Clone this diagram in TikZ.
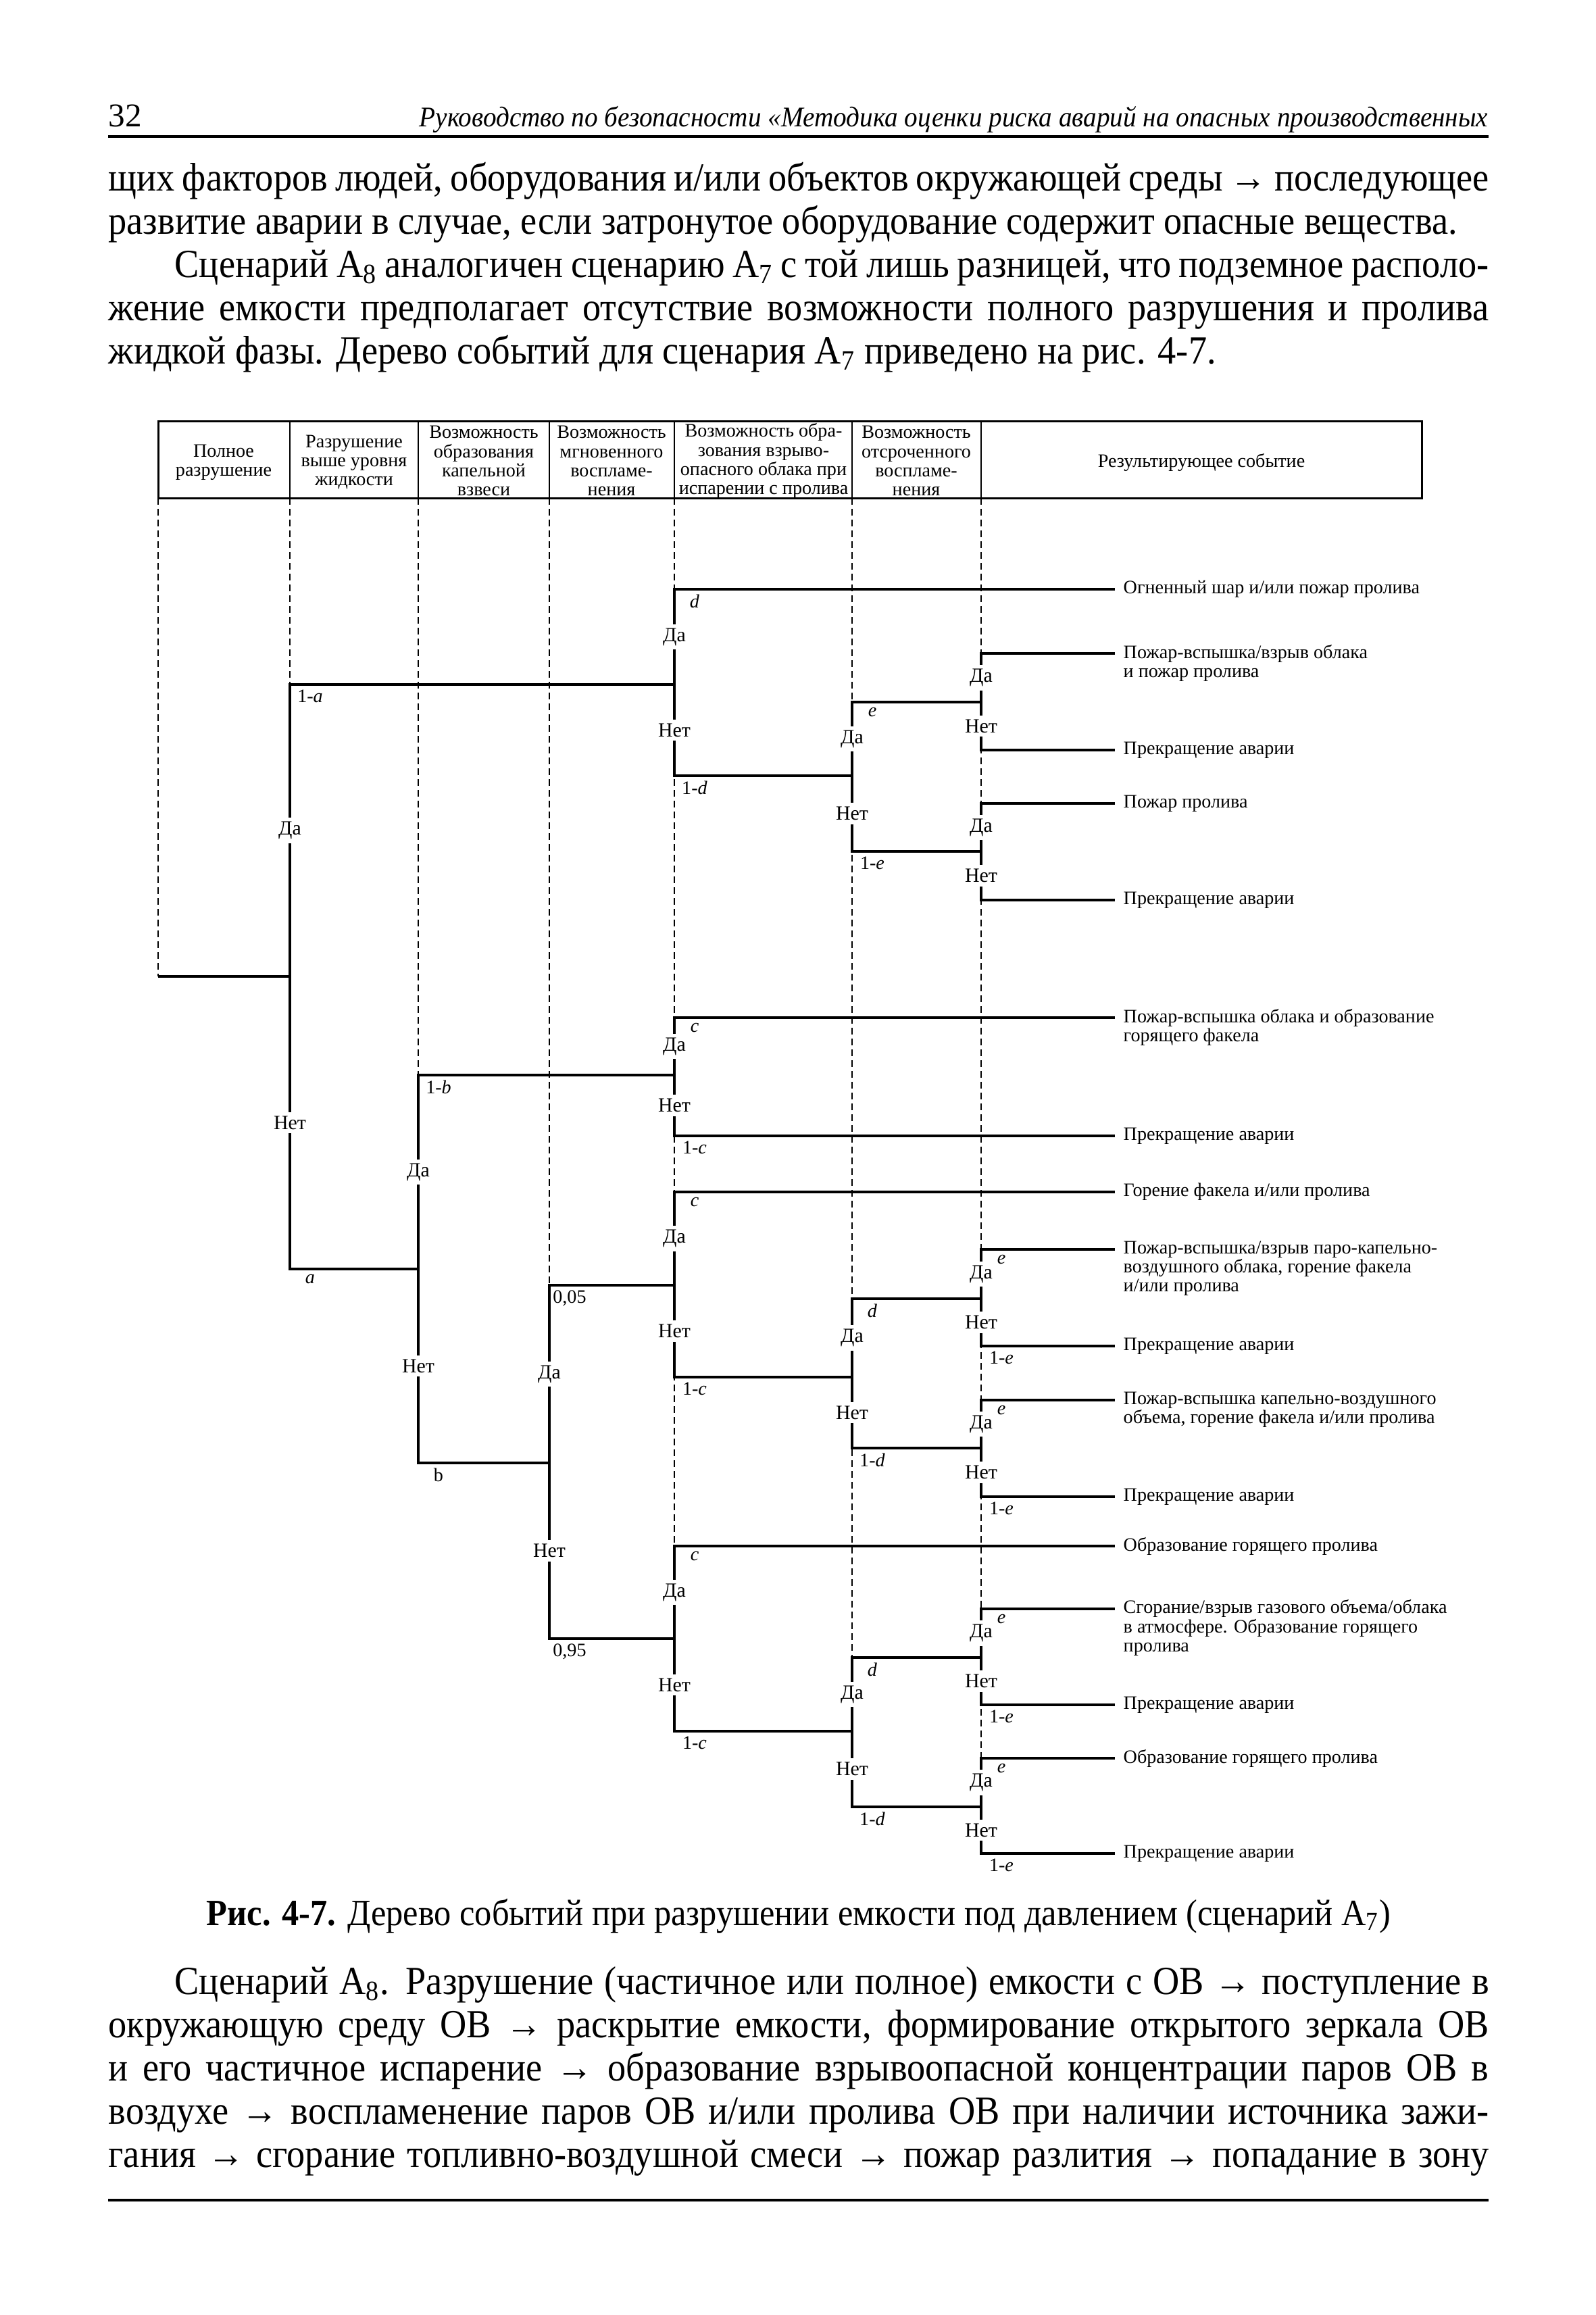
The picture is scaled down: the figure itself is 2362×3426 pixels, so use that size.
\documentclass[tikz,border=0pt]{standalone}
\usepackage{fontspec}
\setmainfont{Liberation Serif}
\newfontfamily\bodyfam[FakeStretch=0.92]{Liberation Serif}
\usepackage{tikz}
\usetikzlibrary{positioning}
\newcommand\dfont{\fontsize{8}{8}\selectfont}
\newcommand\ynfont{\fontsize{8.5}{8.5}\selectfont}
\newcommand\btfont{\bodyfam\fontsize{16.8}{19}\selectfont}
\newcommand\hdfont{\fontsize{12}{14}\selectfont}
\newcommand\capfont{\bodyfam\fontsize{15.6}{18}\selectfont}
\tikzset{
  br/.style     = {line width=0.45mm},
  col/.style    = {line width=0.15mm, dash pattern=on 1mm off 0.6mm},
  tab/.style    = {line width=0.3mm},
  tabsep/.style = {line width=0.2mm},
  pgrule/.style = {line width=0.45mm},
  hd/.style     = {align=center, inner sep=0pt, font=\dfont},
  yn/.style     = {fill=white, inner sep=1.6pt, font=\ynfont, pos=.25},
  pl/.style     = {anchor=north, inner sep=0pt, xshift=3mm, yshift=-0.6mm, font=\dfont, pos=.5},
  res/.style    = {align=left, inner sep=0pt, font=\dfont},
  txt/.style    = {inner sep=0pt, font=\btfont},
}

\begin{document}
\begin{tikzpicture}[x=0.1mm, y=-0.1mm, node distance=1.2mm]
  \useasboundingbox (0,0) rectangle (2362,3426);

  % page head and text above the figure
  \node[txt, anchor=base west, font=\fontsize{14}{16}\selectfont] (pgno) at (160,187) {32};
  \node[txt, anchor=base east, font=\hdfont\itshape] (runhead) at (2203,187) {\scalebox{0.93}[1]{Руководство по безопасности «Методика оценки риска аварий на опасных производственных}};
  \draw[pgrule] (160,202) -- (2203,202);
  \node[txt, anchor=base west] (t1) at (160,282) {\makebox[204.3mm][s]{щих факторов людей, оборудования и/или объектов окружающей среды → последующее}};
  \node[txt, anchor=base west] (t2) at (160,346) {развитие аварии в случае, если затронутое оборудование содержит опасные вещества.};
  \node[txt, anchor=base west] (t3) at (258,410) {\makebox[194.5mm][s]{Сценарий А\textsubscript{8} аналогичен сценарию А\textsubscript{7} с той лишь разницей, что подземное располо-}};
  \node[txt, anchor=base west] (t4) at (160,474) {\makebox[204.3mm][s]{жение емкости предполагает отсутствие возможности полного разрушения и пролива}};
  \node[txt, anchor=base west] (t5) at (160,538) {жидкой фазы. Дерево событий для сценария А\textsubscript{7} приведено на рис. 4-7.};

  % table head
  \draw[tab] (234,623) rectangle (2104,737);
  \foreach \x in {429,619,813,998,1261,1452}
    \draw[tabsep] (\x,623) -- (\x,737);
  \node[hd] (h1) at (331,684) {Полное\\разрушение};
  \node[hd] (h2) at (524,684) {Разрушение\\выше уровня\\жидкости};
  \node[hd] (h3) at (716,682) {Возможность\\образования\\капельной\\взвеси};
  \node[hd] (h4) at (905,682) {Возможность\\мгновенного\\воспламе-\\нения};
  \node[hd] (h5) at (1130,682) {Возможность обра-\\зования взрыво-\\опасного облака при\\испарении с пролива};
  \node[hd] (h6) at (1356,682) {Возможность\\отсроченного\\воспламе-\\нения};
  \node[hd] (h7) at (1778,684) {Результирующее событие};

  \foreach \x/\yb in {234/1445,429/1013,619/1591,813/1902,998/2288,1261/2453,1452/2602}
    \draw[col] (\x,737) -- (\x,\yb);

  % branch points
  \coordinate (r)  at (234,1445);
  \coordinate (A)  at (429,1445);
  \coordinate (D1) at (998,1013);
  \coordinate (E1) at (1261,1148);
  \coordinate (F1) at (1452,1039);
  \coordinate (F2) at (1452,1260);
  \coordinate (B)  at (619,1878);
  \coordinate (C1) at (998,1591);
  \coordinate (M)  at (813,2165);
  \coordinate (C2) at (998,1902);
  \coordinate (C3) at (998,2425);
  \coordinate (E2) at (1261,2038);
  \coordinate (F3) at (1452,1922);
  \coordinate (F4) at (1452,2143);
  \coordinate (E3) at (1261,2562);
  \coordinate (F5) at (1452,2453);
  \coordinate (F6) at (1452,2674);

  % outcomes
  \foreach \n/\y in {1/872,2/967,3/1110,4/1189,5/1332,6/1506,7/1681,8/1764,9/1849,
                     10/1992,11/2072,12/2215,13/2288,14/2381,15/2523,16/2602,17/2743}
    \coordinate (e\n) at (1650,\y);
  \node[res, right=of e1] (o1) {Огненный шар и/или пожар пролива};
  \node[res, right=of e2, yshift=-1.4mm] (o2) {Пожар-вспышка/взрыв облака\\и пожар пролива};
  \node[res, right=of e3] (o3) {Прекращение аварии};
  \node[res, right=of e4] (o4) {Пожар пролива};
  \node[res, right=of e5] (o5) {Прекращение аварии};
  \node[res, right=of e6, yshift=-1.4mm] (o6) {Пожар-вспышка облака и образование\\горящего факела};
  \node[res, right=of e7] (o7) {Прекращение аварии};
  \node[res, right=of e8] (o8) {Горение факела и/или пролива};
  \node[res, right=of e9, yshift=-2.8mm] (o9) {Пожар-вспышка/взрыв паро-капельно-\\воздушного облака, горение факела\\и/или пролива};
  \node[res, right=of e10] (o10) {Прекращение аварии};
  \node[res, right=of e11, yshift=-1.4mm] (o11) {Пожар-вспышка капельно-воздушного\\объема, горение факела и/или пролива};
  \node[res, right=of e12] (o12) {Прекращение аварии};
  \node[res, right=of e13] (o13) {Образование горящего пролива};
  \node[res, right=of e14, yshift=-2.8mm] (o14) {Сгорание/взрыв газового объема/облака\\в атмосфере. Образование горящего\\пролива};
  \node[res, right=of e15] (o15) {Прекращение аварии};
  \node[res, right=of e16] (o16) {Образование горящего пролива};
  \node[res, right=of e17] (o17) {Прекращение аварии};

  % tree
  \draw[br] (r) -- (A);
  \draw[br] (A) |- node[yn]{Да} node[pl]{1-\textit{a}} (D1);
  \draw[br] (A) |- node[yn]{Нет} node[pl]{\textit{a}} (B);
  \draw[br] (D1) |- node[yn]{Да} node[pl]{\textit{d}} (e1);
  \draw[br] (D1) |- node[yn]{Нет} node[pl]{1-\textit{d}} (E1);
  \draw[br] (E1) |- node[yn]{Да} node[pl]{\textit{e}} (F1);
  \draw[br] (E1) |- node[yn]{Нет} node[pl]{1-\textit{e}} (F2);
  \draw[br] (F1) |- node[yn]{Да} (e2);
  \draw[br] (F1) |- node[yn]{Нет} (e3);
  \draw[br] (F2) |- node[yn]{Да} (e4);
  \draw[br] (F2) |- node[yn]{Нет} (e5);
  \draw[br] (B) |- node[yn]{Да} node[pl]{1-\textit{b}} (C1);
  \draw[br] (B) |- node[yn]{Нет} node[pl]{b} (M);
  \draw[br] (C1) |- node[yn]{Да} node[pl]{\textit{c}} (e6);
  \draw[br] (C1) |- node[yn]{Нет} node[pl]{1-\textit{c}} (e7);
  \draw[br] (M) |- node[yn]{Да} node[pl]{0,05} (C2);
  \draw[br] (M) |- node[yn]{Нет} node[pl]{0,95} (C3);
  \draw[br] (C2) |- node[yn]{Да} node[pl]{\textit{c}} (e8);
  \draw[br] (C2) |- node[yn]{Нет} node[pl]{1-\textit{c}} (E2);
  \draw[br] (E2) |- node[yn]{Да} node[pl]{\textit{d}} (F3);
  \draw[br] (E2) |- node[yn]{Нет} node[pl]{1-\textit{d}} (F4);
  \draw[br] (F3) |- node[yn]{Да} node[pl]{\textit{e}} (e9);
  \draw[br] (F3) |- node[yn]{Нет} node[pl]{1-\textit{e}} (e10);
  \draw[br] (F4) |- node[yn]{Да} node[pl]{\textit{e}} (e11);
  \draw[br] (F4) |- node[yn]{Нет} node[pl]{1-\textit{e}} (e12);
  \draw[br] (C3) |- node[yn]{Да} node[pl]{\textit{c}} (e13);
  \draw[br] (C3) |- node[yn]{Нет} node[pl]{1-\textit{c}} (E3);
  \draw[br] (E3) |- node[yn]{Да} node[pl]{\textit{d}} (F5);
  \draw[br] (E3) |- node[yn]{Нет} node[pl]{1-\textit{d}} (F6);
  \draw[br] (F5) |- node[yn]{Да} node[pl]{\textit{e}} (e14);
  \draw[br] (F5) |- node[yn]{Нет} node[pl]{1-\textit{e}} (e15);
  \draw[br] (F6) |- node[yn]{Да} node[pl]{\textit{e}} (e16);
  \draw[br] (F6) |- node[yn]{Нет} node[pl]{1-\textit{e}} (e17);

  % caption and text below
  \node[txt, anchor=base, font=\capfont] (cap) at (1182,2849) {\textbf{Рис. 4-7.} Дерево событий при разрушении емкости под давлением (сценарий А\textsubscript{7})};
  \node[txt, anchor=base west] (b1) at (258,2951) {\makebox[194.5mm][s]{Сценарий А\textsubscript{8}. Разрушение (частичное или полное) емкости с ОВ → поступление в}};
  \node[txt, anchor=base west] (b2) at (160,3015) {\makebox[204.3mm][s]{окружающую среду ОВ → раскрытие емкости, формирование открытого зеркала ОВ}};
  \node[txt, anchor=base west] (b3) at (160,3079) {\makebox[204.3mm][s]{и его частичное испарение → образование взрывоопасной концентрации паров ОВ в}};
  \node[txt, anchor=base west] (b4) at (160,3143) {\makebox[204.3mm][s]{воздухе → воспламенение паров ОВ и/или пролива ОВ при наличии источника зажи-}};
  \node[txt, anchor=base west] (b5) at (160,3207) {\makebox[204.3mm][s]{гания → сгорание топливно-воздушной смеси → пожар разлития → попадание в зону}};
  \draw[pgrule] (160,3256) -- (2203,3256);
\end{tikzpicture}
\end{document}
